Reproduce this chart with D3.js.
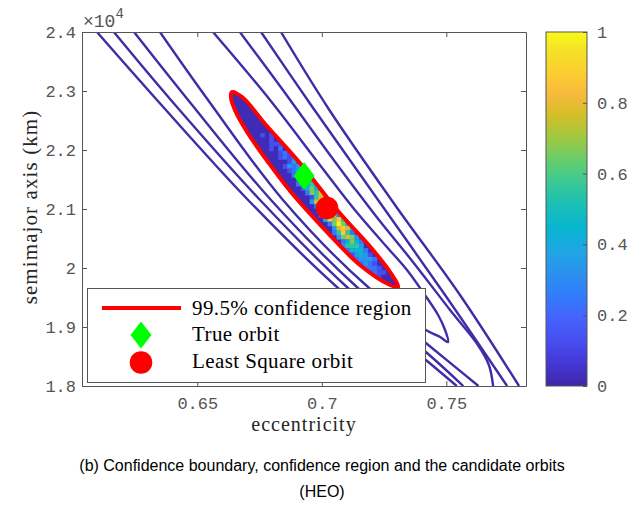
<!DOCTYPE html>
<html><head><meta charset="utf-8">
<script src="https://cdn.jsdelivr.net/npm/d3@7"></script>
<style>body{margin:0;background:#fff}</style>
</head><body>
<svg id="chart" width="643" height="510"></svg>
<script>
// ---------- data ----------
const xTicks = [0.65, 0.7, 0.75];
const yTicks = [18000, 19000, 20000, 21000, 22000, 23000, 24000];
const cTicks = [0, 0.2, 0.4, 0.6, 0.8, 1];

// confidence-boundary level curves (eccentricity, semimajor axis km)
const contourL1 = [[0.6097,24000],[0.6338,22848],[0.6704,21153],[0.7065,19661],[0.7418,18441],[0.7542,18000]];
const contourL2 = [[0.6165,24000],[0.6394,22848],[0.6752,21153],[0.7105,19661],[0.7418,18576],[0.7568,18000]];
const contourL3 = [[0.6246,24000],[0.6463,22848],[0.6796,21153],[0.7145,19661],[0.7418,18729],[0.7629,18000]];
const contourInner = [[0.6350,24000],[0.6543,22848],[0.6844,21153],[0.7190,19661],[0.7418,18949],[0.7475,18831],[0.7507,18746],[0.7495,18949],[0.7467,19203],[0.7414,19542],[0.7342,19966],[0.7254,20390],[0.7133,20983],[0.6977,21831],[0.6792,22848],[0.6563,24000]];
const contourR2 = [[0.6671,24000],[0.6832,23085],[0.7033,21915],[0.7214,20898],[0.7366,20102],[0.7515,19288],[0.7627,18695],[0.7671,18356],[0.7688,18000]];
const contourR3 = [[0.6756,24000],[0.6965,22712],[0.7226,21153],[0.7495,19542],[0.7744,18000]];
const contourR4 = [[0.6836,24000],[0.7025,22712],[0.7294,21068],[0.7555,19542],[0.7792,18000]];

// 99.5% confidence region boundary
const regionBoundary = [[0.6639,22983],[0.6680,22898],[0.6776,22424],[0.6912,21780],[0.7065,20966],[0.7202,20322],[0.7274,19932],[0.7306,19678],[0.7274,19712],[0.7153,20051],[0.7021,20610],[0.6876,21288],[0.6784,21797],[0.6700,22305],[0.6651,22678],[0.6635,22898]];

// density grid inside region: cell (row i, col j) -> e = heatE0 + j*heatDE, a = heatA0 - i*heatDA
const heatE0 = 0.6672, heatDE = 0.0018, heatA0 = 22700, heatDA = 75;
const heatBase = 0.02;
const heatRowIndex = [6,7,8,9,10,11,12,13,14,15,16,17,18,19,20,21,22,23,24,25,26,27,28,29,30,31,32,33,34,35,36,37,38,39];
const heatRowStart = [4,5,6,7,8,9,10,10,11,12,13,13,14,15,16,16,17,18,18,19,20,21,21,22,23,23,24,25,26,26,27,28,28,29];
const heatRowValues = ["01010","00100","01110","10201","01210","12121","01310","13231","12421","24342","13531","25453","14641","26574","15751","37683","26862","38794","27972","48685","26963","37874","25852","36763","24642","35553","24442","13431","23332","12321","12221","11211","01110","00100"];

const trueOrbit = [0.6929, 21559];
const lsOrbit = [0.7021, 21017];

const legendLabels = ["99.5% confidence region", "True orbit", "Least Square orbit"];
const caption = ["(b) Confidence boundary, confidence region and the candidate orbits", "(HEO)"];

// parula colormap stops
const parulaStops = ["#3e26a8","#4537d5","#484df0","#4563fd","#327cfc","#2b91ef","#20a5e3","#08b5d0","#19bfb6","#37c897","#64cd6f","#9dc943","#d1bf27","#f8ba3d","#fccf30","#f5e327","#f9fb15"];
const parulaPos = [0,4,8,12,16,20,24,28,32,36,40,44,48,52,56,60,63].map(v => v/63);

// ---------- drawing ----------
const svg = d3.select("#chart");
const L = 82, R = 526, T = 32, B = 386;
const x = d3.scaleLinear().domain([0.6037, 0.782]).range([L, R]);
const y = d3.scaleLinear().domain([18000, 24000]).range([B, T]);
const parula = d3.scaleLinear().domain(parulaPos).range(parulaStops).interpolate(d3.interpolateRgb);
const axisColor = "#555";
const tickFont = "'Liberation Mono', monospace";
const serif = "'Liberation Serif', 'DejaVu Serif', serif";
const lineColor = "#3d2ea6";

const defs = svg.append("defs");
defs.append("clipPath").attr("id", "plotClip").append("rect")
  .attr("x", L).attr("y", T).attr("width", R - L).attr("height", B - T);

const curve = d3.line().x(d => x(d[0])).y(d => y(d[1])).curve(d3.curveCatmullRom.alpha(0.5));
const closed = d3.line().x(d => x(d[0])).y(d => y(d[1])).curve(d3.curveCatmullRomClosed.alpha(0.5));

defs.append("clipPath").attr("id", "regionClip").append("path").attr("d", closed(regionBoundary));

const plot = svg.append("g").attr("clip-path", "url(#plotClip)");

[contourL1, contourL2, contourL3, contourInner, contourR2, contourR3, contourR4].forEach(c => {
  plot.append("path").attr("d", curve(c)).attr("fill", "none")
    .attr("stroke", lineColor).attr("stroke-width", 2.4).attr("stroke-linejoin", "round");
});

// region fill + heat cells
plot.append("path").attr("d", closed(regionBoundary)).attr("fill", parula(heatBase));
const cells = [];
heatRowIndex.forEach((ri, k) => {
  heatRowValues[k].split("").forEach((chr, m) => {
    const j = heatRowStart[k] + m;
    cells.push({e: heatE0 + j * heatDE, a: heatA0 - ri * heatDA, v: heatBase + (+chr) * 0.107});
  });
});
const cw = x(heatE0 + heatDE) - x(heatE0), chh = y(heatA0 - heatDA) - y(heatA0);
plot.append("g").attr("clip-path", "url(#regionClip)").selectAll("rect").data(cells).join("rect")
  .attr("x", d => x(d.e) - cw / 2).attr("y", d => y(d.a) - chh / 2)
  .attr("width", cw + 0.4).attr("height", chh + 0.4)
  .attr("fill", d => parula(Math.min(1, d.v)));
plot.append("path").attr("d", closed(regionBoundary)).attr("fill", "none")
  .attr("stroke", "#ff0000").attr("stroke-width", 4);

// markers
const diamond = (cx, cy, w, h) => `M${cx},${cy - h/2}L${cx + w/2},${cy}L${cx},${cy + h/2}L${cx - w/2},${cy}Z`;
plot.append("path").attr("d", diamond(x(trueOrbit[0]), y(trueOrbit[1]), 21, 28)).attr("fill", "#00ff00");
plot.append("circle").attr("cx", x(lsOrbit[0])).attr("cy", y(lsOrbit[1])).attr("r", 11.3).attr("fill", "#ff0000");

// axes
function styleAxis(g) {
  g.selectAll("path.domain").attr("stroke", axisColor);
  g.selectAll(".tick line").attr("stroke", axisColor);
  g.selectAll(".tick text").attr("fill", axisColor).attr("font-family", tickFont).attr("font-size", 17);
}
svg.append("g").attr("transform", `translate(0,${B})`)
  .call(d3.axisBottom(x).tickValues(xTicks).tickSize(-5).tickSizeOuter(0).tickPadding(11).tickFormat(d => String(d)))
  .call(styleAxis);
svg.append("g").attr("transform", `translate(0,${T})`)
  .call(d3.axisTop(x).tickValues(xTicks).tickSize(-5).tickSizeOuter(0).tickFormat(""))
  .call(styleAxis);
svg.append("g").attr("transform", `translate(${L},0)`)
  .call(d3.axisLeft(y).tickValues(yTicks).tickSize(-5).tickSizeOuter(0).tickPadding(6).tickFormat(d => String(+(d / 1e4).toFixed(2))))
  .call(styleAxis);
svg.append("g").attr("transform", `translate(${R},0)`)
  .call(d3.axisRight(y).tickValues(yTicks).tickSize(-5).tickSizeOuter(0).tickFormat(""))
  .call(styleAxis);

// exponent
const expo = svg.append("text").attr("x", 83).attr("y", 27).attr("fill", axisColor)
  .attr("font-family", tickFont).attr("font-size", 18);
expo.append("tspan").text("×10");
expo.append("tspan").attr("dy", -9).attr("font-size", 14).text("4");

// axis labels
svg.append("text").attr("x", 304).attr("y", 431).attr("text-anchor", "middle")
  .attr("font-family", serif).attr("font-size", 20).attr("letter-spacing", 1)
  .attr("fill", "#262626").text("eccentricity");
svg.append("text").attr("transform", "translate(37,207) rotate(-90)").attr("text-anchor", "middle")
  .attr("font-family", serif).attr("font-size", 21).attr("letter-spacing", 1.1)
  .attr("fill", "#262626").text("semimajor axis (km)");

// colorbar
const cbL = 546, cbR = 587;
const c = d3.scaleLinear().domain([0, 1]).range([B, T]);
const grad = defs.append("linearGradient").attr("id", "parulaGrad")
  .attr("x1", 0).attr("y1", 1).attr("x2", 0).attr("y2", 0);
grad.selectAll("stop").data(parulaStops).join("stop")
  .attr("offset", (d, i) => parulaPos[i]).attr("stop-color", d => d);
svg.append("rect").attr("x", cbL).attr("y", T).attr("width", cbR - cbL).attr("height", B - T)
  .attr("fill", "url(#parulaGrad)").attr("stroke", axisColor).attr("stroke-width", 1);
svg.append("g").attr("transform", `translate(${cbR},0)`)
  .call(d3.axisRight(c).tickValues(cTicks).tickSize(-4).tickSizeOuter(0).tickPadding(10).tickFormat(d => String(d)))
  .call(styleAxis)
  .call(g => g.select("path.domain").remove());

// legend
const lg = svg.append("g");
lg.append("rect").attr("x", 87.5).attr("y", 288.5).attr("width", 338).attr("height", 94)
  .attr("fill", "#fff").attr("stroke", axisColor).attr("stroke-width", 1);
lg.append("line").attr("x1", 102).attr("x2", 181).attr("y1", 308).attr("y2", 308)
  .attr("stroke", "#ff0000").attr("stroke-width", 4);
lg.append("path").attr("d", diamond(141, 335, 21, 27)).attr("fill", "#00ff00");
lg.append("circle").attr("cx", 141).attr("cy", 362.5).attr("r", 11.3).attr("fill", "#ff0000");
[315, 341, 368].forEach((by, i) => {
  lg.append("text").attr("x", 192).attr("y", by).attr("font-family", serif).attr("font-size", 21)
    .attr("letter-spacing", 0.4).attr("fill", "#000").text(legendLabels[i]);
});

// caption
[471, 497].forEach((by, i) => {
  svg.append("text").attr("x", 322).attr("y", by).attr("text-anchor", "middle")
    .attr("font-family", "'Liberation Sans', Arial, sans-serif").attr("font-size", 16)
    .attr("fill", "#000").text(caption[i]);
});
</script>
</body></html>
